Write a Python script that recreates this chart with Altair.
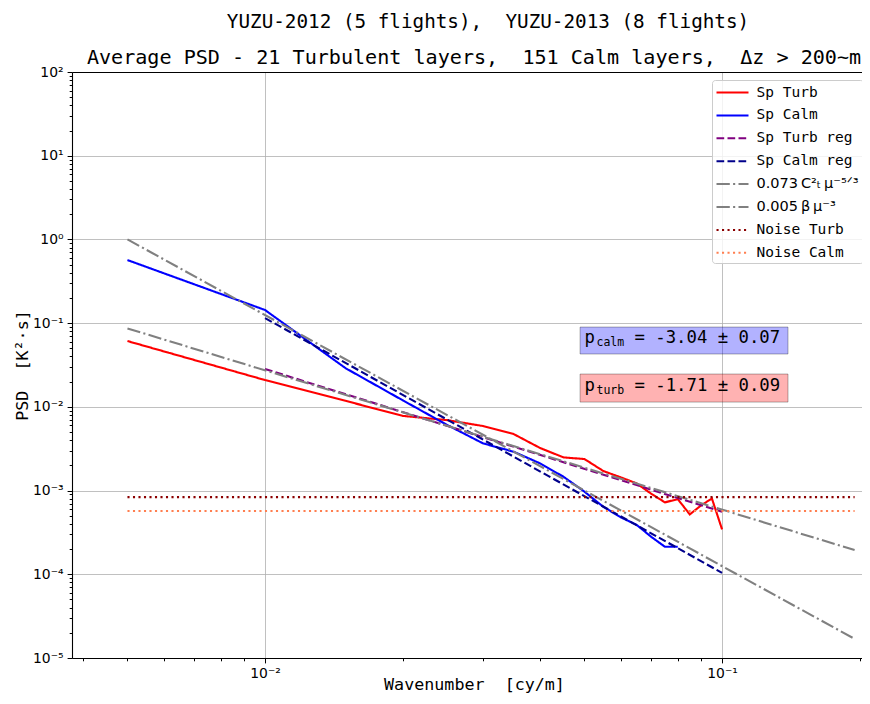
import altair as alt
import pandas as pd

# ---------------- data ----------------
KX = [0.005, 0.010, 0.015, 0.020, 0.025, 0.030, 0.035, 0.040, 0.045, 0.050,
      0.055, 0.060, 0.065, 0.070, 0.075, 0.080, 0.085, 0.090, 0.095, 0.100]
SP_TURB = [0.0611, 0.0209, 0.0118, 0.0078, 0.00695, 0.0059, 0.00473, 0.00322, 0.00249, 0.00238,
           0.00171, 0.00144, 0.00122, 0.000916, 0.000723, 0.000791, 0.000519, 0.000665, 0.000805, 0.000344]
KX_CALM = KX[:16]
SP_CALM = [0.567, 0.1435, 0.029, 0.0120, 0.0061, 0.00366, 0.00291, 0.00211, 0.00146, 0.00097,
           0.00064, 0.00048, 0.00039, 0.00028, 0.000213, 0.000213]
REG_X = [0.01, 0.1]
TURB_REG = [0.0283, 0.000558]
CALM_REG = [0.115, 0.000104]
MODEL_X = [0.005, 0.195]
MODEL_53 = [0.0865, 0.000195]
MODEL_3 = [1.0, 1.69e-5]
NOISE_TURB = [0.000836, 0.000836]
NOISE_CALM = [0.000569, 0.000569]

SERIES = ["Sp Turb", "Sp Calm", "Sp Turb reg", "Sp Calm reg",
          "0.073\u2009C\u00b2\u209c\u2009\u03bc\u207b\u2075\u141f\u00b3", "0.005\u2009\u03b2\u2009\u03bc\u207b\u00b3",
          "Noise Turb", "Noise Calm"]
COLORS = ["#ff0000", "#0000ff", "#800080", "#00008b", "#808080", "#808080", "#8b0000", "#ff7f50"]
DASHES = [[1, 0], [1, 0], [7.7, 3.3], [7.7, 3.3], [13.3, 3.3, 2.1, 3.3], [13.3, 3.3, 2.1, 3.3],
          [2.1, 3.4], [2.1, 3.4]]

# annotation boxes
ANN_SUB = ["calm", "turb"]
ANN_TEXT = ["= -3.04 \u00b1 0.07", "= -1.71 \u00b1 0.09"]
ANN_FILL = ["blue", "red"]
ANN_X = [0.05, 0.05]
ANN_Y = [0.0574, 0.0153]
BOX_X0 = [0.0489, 0.0489]
BOX_X1 = [0.1394, 0.1394]
BOX_Y0 = [0.0898, 0.02466]
BOX_Y1 = [0.0428, 0.0114]

XLIM = [0.003781, 0.2024]
YLIM = [1e-5, 1e2]
X_TICKS = [m * 1e-3 for m in range(4, 10)] + [m * 1e-2 for m in range(1, 10)] + [0.1, 0.2]
Y_TICKS = [m * 10.0 ** e for e in range(-5, 2) for m in range(1, 10)] + [100.0]

# ---------------- build tables ----------------
rows = []
def add(name, xs, ys):
    for a, b in zip(xs, ys):
        rows.append({"series": name, "x": a, "y": b})

add(SERIES[0], KX, SP_TURB)
add(SERIES[1], KX_CALM, SP_CALM)
add(SERIES[2], REG_X, TURB_REG)
add(SERIES[3], REG_X, CALM_REG)
add(SERIES[4], MODEL_X, MODEL_53)
add(SERIES[5], MODEL_X, MODEL_3)
add(SERIES[6], MODEL_X, NOISE_TURB)
add(SERIES[7], MODEL_X, NOISE_CALM)
df = pd.DataFrame(rows)

ann = pd.DataFrame({"sub": ANN_SUB, "txt": ANN_TEXT, "fill": ANN_FILL, "x": ANN_X, "y": ANN_Y,
                    "x0": BOX_X0, "x1": BOX_X1, "y0": BOX_Y0, "y1": BOX_Y1})

MONO = "DejaVu Sans Mono"
SANS = "DejaVu Sans"

SUP = {"-": "\u207b", "0": "\u2070", "1": "\u00b9", "2": "\u00b2", "3": "\u00b3",
       "4": "\u2074", "5": "\u2075"}
def sup(e):
    return "10" + "".join(SUP[c] for c in str(e))

LOGV = "(log(datum.value)/LN10)"
IS_MAJOR = f"abs({LOGV} - round({LOGV})) < 0.001"
expr = "''"
for e in range(-5, 3):
    expr = f"round({LOGV}) == {e} ? '{sup(e)}' : ({expr})"
LABEL_EXPR = f"{IS_MAJOR} ? ({expr}) : ''"

def axis(values, title, **kw):
    return alt.Axis(
        values=values, labelExpr=LABEL_EXPR, title=title,
        tickSize={"condition": {"test": IS_MAJOR, "value": 4.9}, "value": 2.8},
        gridOpacity={"condition": {"test": IS_MAJOR, "value": 1}, "value": 0},
        grid=True, gridColor="#b0b0b0", gridWidth=0.8,
        domainColor="black", domainWidth=1.1, tickColor="black", tickWidth=1,
        labelFont=SANS, labelFontSize=13.9, labelColor="black", labelPadding=4,
        titleFont=MONO, titleFontSize=16.7, titleFontWeight="normal", titleColor="black",
        labelFlush=False, labelOverlap=False, **kw
    )

X_AXIS = axis(X_TICKS, "Wavenumber \u00a0[cy/m]", titleX=402, titleY=31,
              titleBaseline="alphabetic", titleAlign="center")
Y_AXIS = axis(Y_TICKS, "PSD \u00a0[K\u00b2\u00b7s]", titleX=-50, titleY=293,
              titleBaseline="middle", titleAlign="center", titleAngle=270)

IS_MATH = "indexof(datum.label, '\u03bc') >= 0"
legend = alt.Legend(
    title=None, orient="none", legendX=640, legendY=8,
    fillColor="rgba(255,255,255,0.8)", strokeColor="#cccccc", cornerRadius=3,
    padding=3.5, rowPadding=6.9, symbolType="M-2,0H2", symbolSize=256, symbolStrokeWidth=2,
    symbolOffset=8,
    labelFont=alt.ExprRef(f"{IS_MATH} ? '{SANS}' : '{MONO}'"),
    labelFontSize=14.5, labelColor="black", labelOffset=15, labelLimit=300,
)

xs = alt.Scale(type="log", domain=XLIM, nice=False)
ys = alt.Scale(type="log", domain=YLIM, nice=False)

lines = alt.Chart(df).mark_line(strokeWidth=2.1, strokeCap="butt").encode(
    x=alt.X("x:Q", scale=xs, axis=X_AXIS),
    y=alt.Y("y:Q", scale=ys, axis=Y_AXIS),
    color=alt.Color("series:N", scale=alt.Scale(domain=SERIES, range=COLORS), legend=legend,
                    sort=SERIES),
    strokeDash=alt.StrokeDash("series:N", scale=alt.Scale(domain=SERIES, range=DASHES),
                              legend=legend, sort=SERIES),
    detail="series:N",
)

boxes = alt.Chart(ann).mark_rect(fillOpacity=0.3, stroke="black", strokeOpacity=0.3,
                                 strokeWidth=1).encode(
    x=alt.X("x0:Q", scale=xs, axis=alt.Axis(orient="top", labels=False, ticks=False, grid=False,
                                             title=None, domainColor="black", domainWidth=1.1)),
    x2="x1:Q",
    y=alt.Y("y0:Q", scale=ys, axis=Y_AXIS),
    y2="y1:Q",
    fill=alt.Fill("fill:N", scale=None),
)

def txt_layer(text_enc, size, dx, dy):
    return alt.Chart(ann).mark_text(font=MONO, fontSize=size, align="left", baseline="alphabetic",
                                    color="black", dx=dx, dy=dy).encode(
        x=alt.X("x:Q", scale=xs, axis=None),
        y=alt.Y("y:Q", scale=ys, axis=Y_AXIS),
        text=text_enc)

p_txt = txt_layer(alt.value("p"), 17.3, 0, 0)
sub_txt = txt_layer(alt.Text("sub:N"), 11.5, 12, 3)
main_txt = txt_layer(alt.Text("txt:N"), 17.3, 50, 0)

chart = alt.layer(lines, boxes, p_txt, sub_txt, main_txt).resolve_axis(
    x="independent"
).properties(
    width=790, height=586,
    autosize=alt.AutoSizeParams(type="none"),
    padding={"left": 64, "top": 64, "right": 0, "bottom": 36},
    title=alt.TitleParams(
        text="\u2800\u2800YUZU-2012 (5 flights),\u00a0 YUZU-2013 (8 flights)",
        subtitle="Average PSD - 21 Turbulent layers,\u00a0 151 Calm layers,\u00a0 \u0394z > 200~m",
        font=MONO, fontSize=19.3, fontWeight="normal", color="black",
        subtitleFont=MONO, subtitleFontSize=20.1, subtitleColor="black",
        anchor="middle", offset=-3, subtitlePadding=16, dx=7,
    ),
).configure_view(stroke=None).configure(background="white")

chart.save("out.html", embed_options={"renderer": "svg", "actions": False})
